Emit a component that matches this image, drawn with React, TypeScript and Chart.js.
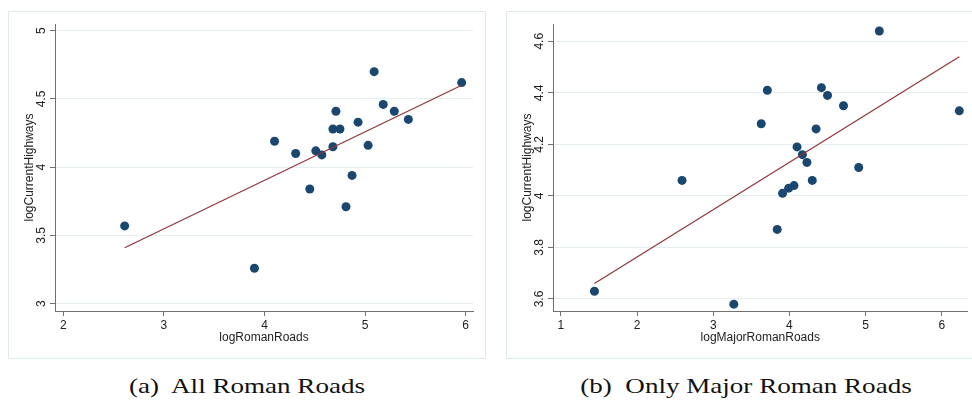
import React, { useEffect, useRef } from "react";
import { Chart, registerables } from "chart.js";

Chart.register(...registerables);

// ---- Data: (a) All Roman Roads ----
const allRoadsX = [2.61, 3.90, 4.10, 4.31, 4.45, 4.51, 4.57, 4.68, 4.68, 4.71, 4.75, 4.81, 4.87, 4.93, 5.03, 5.09, 5.18, 5.29, 5.43, 5.96];
const allRoadsY = [3.57, 3.26, 4.19, 4.10, 3.84, 4.12, 4.09, 4.15, 4.28, 4.41, 4.28, 3.71, 3.94, 4.33, 4.16, 4.70, 4.46, 4.41, 4.35, 4.62];
const allFitX = [2.61, 5.96];
const allFitY = [3.41, 4.60];
const allXTicks = [2, 3, 4, 5, 6];
const allYTicks = [3, 3.5, 4, 4.5, 5];

// ---- Data: (b) Only Major Roman Roads ----
const majorX = [1.44, 2.59, 3.27, 3.63, 3.71, 3.84, 3.91, 3.99, 4.06, 4.10, 4.17, 4.23, 4.30, 4.35, 4.42, 4.50, 4.71, 4.91, 5.18, 6.23];
const majorY = [3.63, 4.06, 3.58, 4.28, 4.41, 3.87, 4.01, 4.03, 4.04, 4.19, 4.16, 4.13, 4.06, 4.26, 4.42, 4.39, 4.35, 4.11, 4.64, 4.33];
const majorFitX = [1.44, 6.23];
const majorFitY = [3.66, 4.54];
const majorXTicks = [1, 2, 3, 4, 5, 6];
const majorYTicks = [3.6, 3.8, 4, 4.2, 4.4, 4.6];

const FONT = "'Liberation Sans', Arial, sans-serif";
const MARKER = "#1a476f";
const FIT = "#90353b";
const AXIS = "#707070";
const GRID = "#e6eff0";
const TEXT = "#222222";
const FRAME = "#e0eaec";

type PanelProps = {
  xs: number[];
  ys: number[];
  fitX: number[];
  fitY: number[];
  xTicks: number[];
  yTicks: number[];
  xTitle: string;
  yTitle: string;
  xRange: [number, number];
  yRange: [number, number];
  left: number;
  top: number;
  width: number;
  height: number;
  padRight: number;
};

function Panel(p: PanelProps) {
  const ref = useRef<HTMLCanvasElement>(null);
  useEffect(() => {
    const font = { family: FONT, size: 12 };
    const chart = new Chart(ref.current as HTMLCanvasElement, {
      type: "scatter",
      data: {
        datasets: [
          {
            data: p.fitX.map((x, i) => ({ x, y: p.fitY[i] })),
            showLine: true,
            borderColor: FIT,
            borderWidth: 1.2,
            pointRadius: 0,
            order: 0,
          },
          {
            data: p.xs.map((x, i) => ({ x, y: p.ys[i] })),
            backgroundColor: MARKER,
            borderColor: MARKER,
            borderWidth: 0,
            pointRadius: 4.5,
            order: 1,
          },
        ],
      },
      options: {
        animation: false,
        responsive: false,
        devicePixelRatio: 1,
        layout: { padding: { left: 0, top: 13, right: p.padRight, bottom: 11 } },
        plugins: { legend: { display: false }, tooltip: { enabled: false } },
        scales: {
          x: {
            type: "linear",
            min: p.xRange[0],
            max: p.xRange[1],
            afterBuildTicks: (s: any) => {
              s.ticks = p.xTicks.map((v) => ({ value: v }));
            },
            afterFit: (s: any) => {
              s.height = 36;
            },
            ticks: {
              callback: (v: any) => String(v),
              font,
              color: TEXT,
              padding: 2,
              autoSkip: false,
              maxRotation: 0,
            },
            grid: { drawOnChartArea: false, tickLength: 5, tickColor: AXIS, tickWidth: 1 },
            border: { color: AXIS, width: 1 },
            title: { display: true, text: p.xTitle, font, color: TEXT, padding: { top: 0, bottom: 1.8 } },
          },
          y: {
            type: "linear",
            min: p.yRange[0],
            max: p.yRange[1],
            afterBuildTicks: (s: any) => {
              s.ticks = p.yTicks.map((v) => ({ value: v }));
            },
            afterFit: (s: any) => {
              s.width = 47;
            },
            ticks: {
              callback: (v: any) => String(v),
              font,
              color: TEXT,
              padding: 0,
              autoSkip: false,
              minRotation: 90,
              maxRotation: 90,
              crossAlign: "center",
            },
            grid: { color: GRID, lineWidth: 1, tickLength: 5, tickColor: AXIS, tickWidth: 1 },
            border: { color: AXIS, width: 1 },
            title: { display: true, text: p.yTitle, font, color: TEXT, padding: { top: 14, bottom: 0 } },
          },
        },
      } as any,
    });
    return () => chart.destroy();
  }, []);
  return (
    <canvas
      ref={ref}
      width={p.width}
      height={p.height}
      style={{ position: "absolute", left: p.left, top: p.top, width: p.width, height: p.height }}
    />
  );
}

const captionStyle = (center: number): React.CSSProperties => ({
  position: "absolute",
  left: center - 250,
  width: 500,
  top: 375,
  textAlign: "center",
  fontFamily: "'Liberation Serif', 'Times New Roman', serif",
  fontSize: 22,
  lineHeight: "22px",
  color: "#111",
  whiteSpace: "pre",
  transform: "scaleX(1.23)",
  transformOrigin: "50% 50%",
});

export default function App() {
  return (
    <div
      style={{
        position: "fixed",
        left: 0,
        top: 0,
        width: 972,
        height: 401,
        overflow: "hidden",
        background: "#ffffff",
      }}
    >
      <div
        style={{
          position: "absolute",
          left: 8,
          top: 11,
          width: 478,
          height: 348,
          border: `1px solid ${FRAME}`,
          boxSizing: "border-box",
        }}
      />
      <div
        style={{
          position: "absolute",
          left: 506,
          top: 11,
          width: 490,
          height: 348,
          border: `1px solid ${FRAME}`,
          boxSizing: "border-box",
        }}
      />
      <Panel
        xs={allRoadsX}
        ys={allRoadsY}
        fitX={allFitX}
        fitY={allFitY}
        xTicks={allXTicks}
        yTicks={allYTicks}
        xTitle="logRomanRoads"
        yTitle="logCurrentHighways"
        xRange={[1.9175, 6.0725]}
        yRange={[2.9465, 5.049]}
        left={8}
        top={11}
        width={478}
        height={347}
        padRight={13}
      />
      <Panel
        xs={majorX}
        ys={majorY}
        fitX={majorFitX}
        fitY={majorFitY}
        xTicks={majorXTicks}
        yTicks={majorYTicks}
        xTitle="logMajorRomanRoads"
        yTitle="logCurrentHighways"
        xRange={[0.896, 6.338]}
        yRange={[3.5534, 4.667]}
        left={506}
        top={11}
        width={466}
        height={347}
        padRight={0}
      />
      <div style={captionStyle(247)}>{"(a)  All Roman Roads"}</div>
      <div style={captionStyle(746)}>{"(b)  Only Major Roman Roads"}</div>
    </div>
  );
}
